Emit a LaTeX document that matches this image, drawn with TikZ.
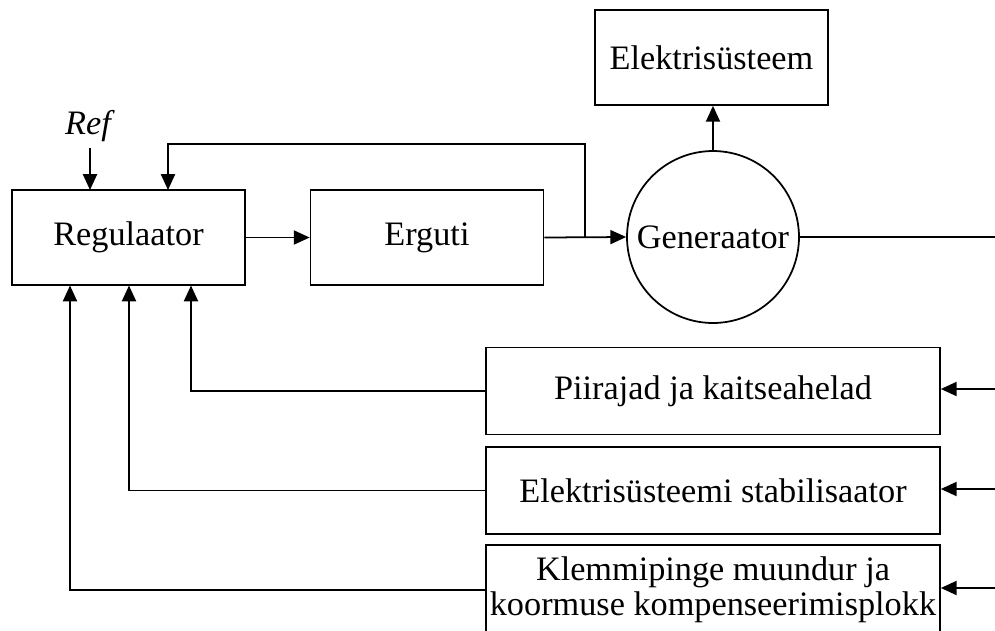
\documentclass[tikz,border=0pt]{standalone}
\usepackage{fontspec}
\setmainfont{Liberation Serif}
\usetikzlibrary{arrows.meta,calc}

\tikzset{
  blokk/.style={draw, line width=1pt, minimum width=4.66cm, minimum height=1.9cm, inner sep=0pt},
  laiblokk/.style={draw, line width=1pt, minimum width=9.08cm, minimum height=1.74cm, inner sep=0pt, align=center},
  liin/.style={line width=1pt},
  nool/.style={line width=1pt, -{Triangle[length=9pt,width=8pt]}}
}

\begin{document}
\begin{tikzpicture}[x=0.02cm, y=-0.02cm, font=\fontsize{19.5}{20}\selectfont]
\useasboundingbox (0,0) rectangle (995,630);
\clip (0,0) rectangle (995,630);
% ulemine rida
\node [blokk] (reg) at (128.5,237.5) {Regulaator};
\node [blokk] (erg) at (427,237.5) {Erguti};
\node [draw, circle, line width=1pt, minimum size=3.44cm, inner sep=0pt] (gen) at (713,237) {Generaator};
\node [blokk] (el) at (711.5,57.5) {Elektris\"usteem};
\node (ref) at (90,126) {\textit{Ref}};
% alumised plokid
\node [laiblokk] (pii) at (713,391) {Piirajad ja kaitseahelad};
\node [laiblokk] (stab) at (713,490.5) {Elektris\"usteemi stabilisaator};
\node [laiblokk, minimum height=1.8cm] (klem) at (713,590) {Klemmipinge muundur ja\\koormuse kompenseerimisplokk};
% abipunktid
\coordinate (fb) at (585,237);
\coordinate (fbtop) at (585,144);
\coordinate (r0) at (90,190);
\coordinate (r1) at (168,190);
\coordinate (a1) at (70,285.5);
\coordinate (a2) at (129,285.5);
\coordinate (a3) at (191,285.5);
\coordinate (out) at (995,237);
\coordinate (in1) at (995,389);
\coordinate (in2) at (995,489);
\coordinate (in3) at (995,588);

\draw [nool] (ref.south) -- (r0);
\draw [nool] (reg.east) -- (erg.west);
\draw [nool] (erg.east) -- (gen.west);
\draw [nool] (fb) -- (fbtop) -| (r1);
\draw [nool] (gen.north) -- (gen.north |- el.south);
\draw [liin] (gen.east) -- (out);
\draw [nool] (in1) -- (in1 -| pii.east);
\draw [nool] (in2) -- (in2 -| stab.east);
\draw [nool] (in3) -- (in3 -| klem.east);
\draw [nool] (pii.west) -| (a3);
\draw [nool] (stab.west) -| (a2);
\draw [nool] (klem.west) -| (a1);
\end{tikzpicture}
\end{document}
